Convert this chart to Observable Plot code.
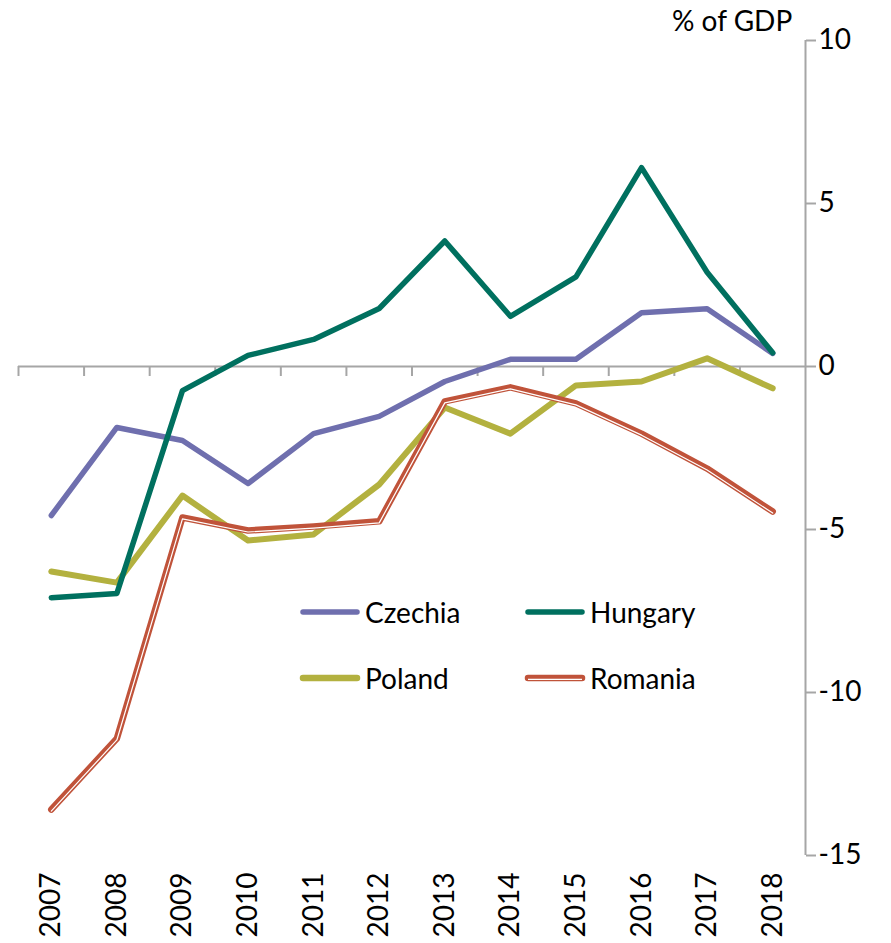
<!DOCTYPE html>
<html><head><meta charset="utf-8">
<script src="https://cdn.jsdelivr.net/npm/d3@7"></script>
<script src="https://cdn.jsdelivr.net/npm/@observablehq/plot@0.6"></script>
<style>
body{margin:0;background:#fff;}
#wrap{position:relative;width:891px;height:943px;font-family:Lato,"Open Sans",sans-serif;color:#000;}
#unit{position:absolute;left:672px;top:3px;font-size:28px;white-space:nowrap;}
.item{position:absolute;display:flex;align-items:center;font-size:28px;white-space:nowrap;transform:translateY(-50%);}
.item svg{margin-right:4px;}
</style></head><body><div id="wrap"><div id="unit">% of GDP</div></div>
<script>
const years = [2007,2008,2009,2010,2011,2012,2013,2014,2015,2016,2017,2018];
const czechia = [-4.57,-1.87,-2.27,-3.59,-2.06,-1.53,-0.46,0.22,0.22,1.65,1.77,0.40];
const hungary = [-7.09,-6.96,-0.74,0.34,0.83,1.78,3.85,1.54,2.75,6.10,2.89,0.42];
const poland  = [-6.29,-6.63,-3.96,-5.34,-5.15,-3.62,-1.26,-2.06,-0.58,-0.46,0.25,-0.67];
const romania = [-13.59,-11.41,-4.63,-5.03,-4.91,-4.75,-1.07,-0.64,-1.13,-2.06,-3.13,-4.45];
const yTicks = [-15,-10,-5,0,5,10];
const seriesNames = ["Czechia","Hungary","Poland","Romania"];
const seriesColors = ["#6f6fae","#00705f","#b3b13f","#c0533a"];
const seriesValues = [czechia,hungary,poland,romania];

const rows = seriesNames.flatMap((name,k)=>years.map((year,i)=>({series:name,year,value:seriesValues[k][i]})));
const byName = n => rows.filter(d=>d.series===n);
const boundaries = d3.range(d3.min(years)-0.5, d3.max(years)+1, 1);
const gray = "#a6a6a6";

const chart = Plot.plot({
  width: 891, height: 943,
  marginLeft: 18, marginRight: 86, marginTop: 40, marginBottom: 88,
  style: {fontFamily: "Lato, 'Open Sans', sans-serif", fontSize: "28px", color: "#000", background: "#fff"},
  x: {domain: [d3.min(years)-0.5, d3.max(years)+0.5]},
  y: {domain: [d3.min(yTicks), d3.max(yTicks)]},
  marks: [
    Plot.ruleY([0], {stroke: gray, strokeWidth: 2}),
    Plot.ruleX(boundaries.slice(0,-1), {x: d=>d, y1: 0, y2: 0, insetBottom: -10, stroke: gray, strokeWidth: 2}),
    Plot.ruleX([d3.max(years)+0.5], {stroke: gray, strokeWidth: 2}),
    Plot.axisY({anchor: "right", ticks: yTicks, tickSize: 10, tickPadding: 3, tickFormat: d=>String(d), stroke: gray, strokeWidth: 2, fontSize: 28, label: null}),
    Plot.axisX({ticks: years, tickSize: 0, tickPadding: 17, tickRotate: -90, textAnchor: "end", lineAnchor: "middle", tickFormat: d=>String(d), fontSize: 28, label: null}),
    Plot.line(byName("Czechia"), {x: "year", y: "value", stroke: seriesColors[0], strokeWidth: 5.5, strokeLinecap: "round", strokeLinejoin: "round"}),
    Plot.line(byName("Poland"), {x: "year", y: "value", stroke: seriesColors[2], strokeWidth: 6, strokeLinecap: "round", strokeLinejoin: "round"}),
    Plot.line(byName("Romania"), {x: "year", y: "value", stroke: seriesColors[3], strokeWidth: 6.5, strokeLinecap: "round", strokeLinejoin: "round"}),
    Plot.line(byName("Romania"), {x: "year", y: "value", stroke: "#fff", strokeWidth: 1.2, dy: 1.5, strokeLinecap: "round", strokeLinejoin: "round"}),
    Plot.line(byName("Hungary"), {x: "year", y: "value", stroke: seriesColors[1], strokeWidth: 5.5, strokeLinecap: "round", strokeLinejoin: "round"})
  ]
});
const wrap = document.getElementById("wrap");
wrap.insertBefore(chart, wrap.firstChild);

// legend (2 x 2) inside the plot area
const legendPos = [[299,612],[524,612],[299,678],[524,678]];
seriesNames.forEach((name,k)=>{
  const div = document.createElement("div");
  div.className = "item";
  div.style.left = legendPos[k][0]+"px";
  div.style.top = legendPos[k][1]+"px";
  const dbl = name==="Romania";
  div.innerHTML = `<svg width="62" height="12"><line x1="4" y1="6" x2="58" y2="6" stroke="${seriesColors[k]}" stroke-width="${k===2||dbl?6.5:5.5}" stroke-linecap="round"/>${dbl?'<line x1="4" y1="7.3" x2="58" y2="7.3" stroke="#fff" stroke-width="1.2"/>':''}</svg><span>${name}</span>`;
  wrap.appendChild(div);
});
</script>
</body></html>
